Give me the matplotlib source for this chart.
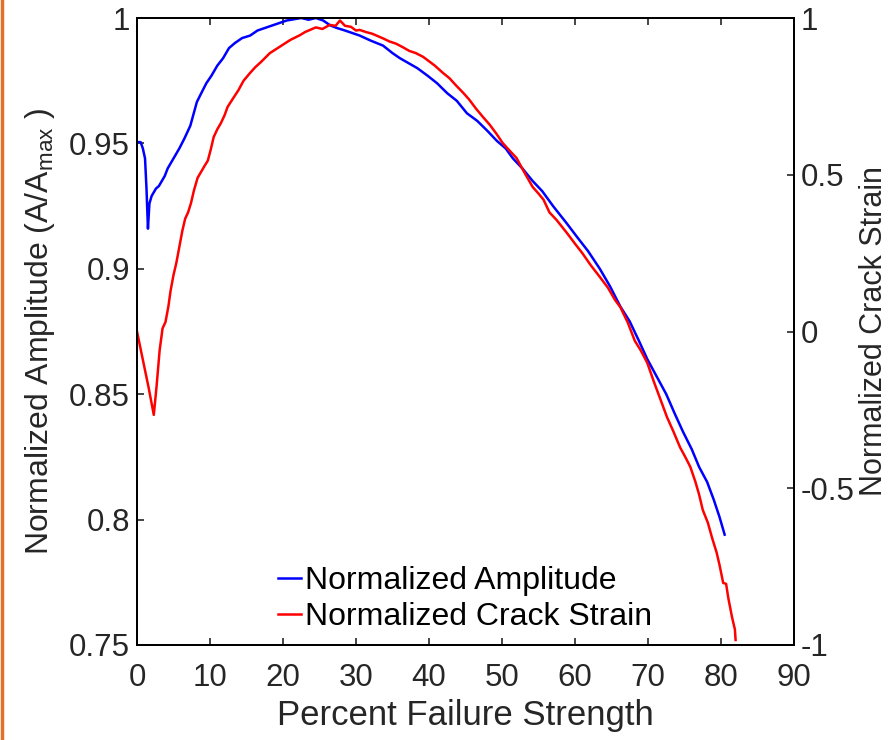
import numpy as np
import matplotlib
matplotlib.use("Agg")
import matplotlib.pyplot as plt
from matplotlib.lines import Line2D

plt.rcParams['font.family'] = ['Liberation Sans', 'DejaVu Sans']
plt.rcParams['mathtext.fontset'] = 'custom'
plt.rcParams['mathtext.rm'] = 'Liberation Sans'
plt.rcParams['mathtext.it'] = 'Liberation Sans:italic'

# normalized amplitude (left axis)
amp_x = [0.0, 0.5, 0.8, 1.1, 1.3, 1.5, 1.7, 2.0, 2.6, 3.0, 3.8, 4.2, 5.0, 5.8, 6.5,
         7.3, 8.2, 8.8, 9.5, 10.2, 11.0, 11.8, 12.6, 13.4, 14.4, 15.5, 16.5, 17.5,
         18.5, 19.5, 20.5, 21.5, 22.5, 23.5, 24.5, 25.5, 26.5, 27.4, 28.5, 29.5,
         30.5, 32.0, 33.7, 35.0, 36.0, 37.2, 38.4, 39.8, 41.1, 42.5, 43.8, 45.2,
         46.6, 48.0, 49.3, 50.5, 51.5, 52.8, 54.2, 55.5, 57.0, 58.9, 60.2, 61.8,
         63.4, 64.8, 66.2, 67.5, 68.8, 69.9, 71.2, 72.5, 73.7, 74.8, 76.0, 77.0,
         78.1, 79.0, 79.8, 80.5]
amp_y = [0.9505, 0.9505, 0.948, 0.944, 0.932, 0.916, 0.926, 0.929, 0.932, 0.933,
         0.937, 0.940, 0.944, 0.948, 0.952, 0.957, 0.9665, 0.970, 0.974, 0.977,
         0.981, 0.984, 0.988, 0.990, 0.992, 0.993, 0.995, 0.996, 0.997, 0.998,
         0.999, 0.9995, 1.000, 0.9993, 1.000, 0.999, 0.997, 0.996, 0.995, 0.994,
         0.993, 0.991, 0.989, 0.986, 0.984, 0.982, 0.980, 0.977, 0.974, 0.970,
         0.967, 0.962, 0.959, 0.955, 0.951, 0.948, 0.944, 0.940, 0.935, 0.931,
         0.925, 0.918, 0.913, 0.907, 0.900, 0.893, 0.885, 0.879, 0.871, 0.864,
         0.857, 0.850, 0.842, 0.835, 0.828, 0.821, 0.815, 0.808, 0.801, 0.794]

# normalized crack strain (right axis)
crk_x = [0.0, 0.8, 1.6, 2.3, 2.7, 3.1, 3.5, 3.9, 4.3, 4.6, 5.0, 5.4, 5.8, 6.2, 6.6,
         7.0, 7.4, 7.8, 8.3, 8.8, 9.3, 9.7, 10.1, 10.5, 11.0, 11.5, 12.0, 12.4,
         13.2, 13.9, 14.6, 15.5, 16.2, 17.0, 18.2, 19.0, 20.0, 21.0, 22.3, 23.0,
         23.7, 24.5, 25.4, 26.4, 27.2, 27.8, 28.5, 29.3, 30.0, 30.5, 31.4, 32.2,
         33.0, 33.7, 34.6, 35.5, 36.4, 37.3, 38.2, 39.2, 40.0, 40.8, 41.9, 42.8,
         43.7, 44.7, 45.5, 46.4, 47.4, 48.3, 49.2, 50.1, 51.0, 52.0, 53.0, 54.2,
         55.0, 55.7, 56.5, 57.5, 58.9, 60.0, 61.0, 62.2, 63.4, 64.5, 65.5, 66.2,
         67.2, 68.2, 69.0, 69.9, 70.8, 71.6, 72.6, 73.5, 74.4, 75.1, 75.8, 76.5,
         77.0, 77.5, 78.2, 78.8, 79.4, 79.8, 80.3, 80.7, 81.0, 81.5, 81.9, 82.0]
crk_y = [0.000, -0.090, -0.180, -0.266, -0.170, -0.060, 0.010, 0.030, 0.080, 0.130,
         0.180, 0.220, 0.270, 0.320, 0.360, 0.380, 0.410, 0.450, 0.490, 0.510,
         0.530, 0.545, 0.580, 0.620, 0.645, 0.665, 0.690, 0.716, 0.745, 0.770,
         0.800, 0.825, 0.843, 0.860, 0.888, 0.900, 0.915, 0.930, 0.945, 0.955,
         0.962, 0.970, 0.965, 0.978, 0.975, 0.992, 0.975, 0.972, 0.960, 0.962,
         0.955, 0.950, 0.942, 0.935, 0.925, 0.918, 0.907, 0.895, 0.888, 0.876,
         0.862, 0.848, 0.825, 0.808, 0.785, 0.761, 0.740, 0.712, 0.684, 0.660,
         0.632, 0.601, 0.578, 0.553, 0.510, 0.461, 0.440, 0.420, 0.380, 0.355,
         0.314, 0.280, 0.250, 0.210, 0.174, 0.140, 0.100, 0.078, 0.030, -0.030,
         -0.060, -0.100, -0.160, -0.210, -0.273, -0.320, -0.370, -0.400, -0.432,
         -0.480, -0.520, -0.569, -0.610, -0.660, -0.705, -0.745, -0.802, -0.805,
         -0.850, -0.910, -0.950, -0.984]

xticks = [0, 10, 20, 30, 40, 50, 60, 70, 80, 90]
lticks = [0.75, 0.8, 0.85, 0.9, 0.95, 1]
lticklabels = ['0.75', '0.8', '0.85', '0.9', '0.95', '1']
rticks = [-1, -0.5, 0, 0.5, 1]
rticklabels = ['-1', '-0.5', '0', '0.5', '1']

fs = 22.5
fig = plt.figure(figsize=(8.88, 7.4), dpi=100)
ax = fig.add_axes([137/888, 1 - 645/740, (794-137)/888, (645-18)/740])
ax2 = ax.twinx()

l1, = ax.plot(amp_x, amp_y, color='#0000FF', lw=1.8)
l2, = ax2.plot(crk_x, crk_y, color='#FF0000', lw=1.8)

ax.set_xlim(0, 90)
ax.set_ylim(0.75, 1)
ax2.set_ylim(-1, 1)
ax.set_xticks(xticks)
ax.set_xticklabels([str(t) for t in xticks])
ax.set_yticks(lticks)
ax.set_yticklabels(lticklabels)
ax2.set_yticks(rticks)
ax2.set_yticklabels(rticklabels)

ax.tick_params(axis='x', direction='in', length=5, width=1.2, top=True,
               labelsize=fs, pad=13, colors='#262626')
ax.tick_params(axis='y', direction='in', length=5, width=1.2, right=False,
               labelsize=fs, pad=5, colors='#262626')
ax2.tick_params(axis='y', direction='in', length=5, width=1.2,
                labelsize=fs, pad=5, colors='#262626')
for a in (ax, ax2):
    for s in a.spines.values():
        s.set_linewidth(1.4)
        s.set_color('#000000')

ax.set_xlabel('Percent Failure Strength', fontsize=25, color='#262626', labelpad=4)
ax.set_ylabel('Normalized Amplitude (A/A$_{\\mathrm{max}}$ )', fontsize=23,
              color='#262626', labelpad=9)
ax2.set_ylabel('Normalized Crack Strain', fontsize=22, color='#262626', labelpad=3)

ax2.legend([l1, l2], ['Normalized Amplitude', 'Normalized Crack Strain'],
           loc='lower left', bbox_to_anchor=(0.215, 0.02), frameon=False,
           fontsize=23, handlelength=0.7, handletextpad=0.15,
           borderpad=0, borderaxespad=0, labelspacing=0.2)

fig.add_artist(Line2D([0.002, 0.002], [0, 1], color='#E0722A', lw=2.5,
                      transform=fig.transFigure))

fig.savefig('out.png', dpi=100)
